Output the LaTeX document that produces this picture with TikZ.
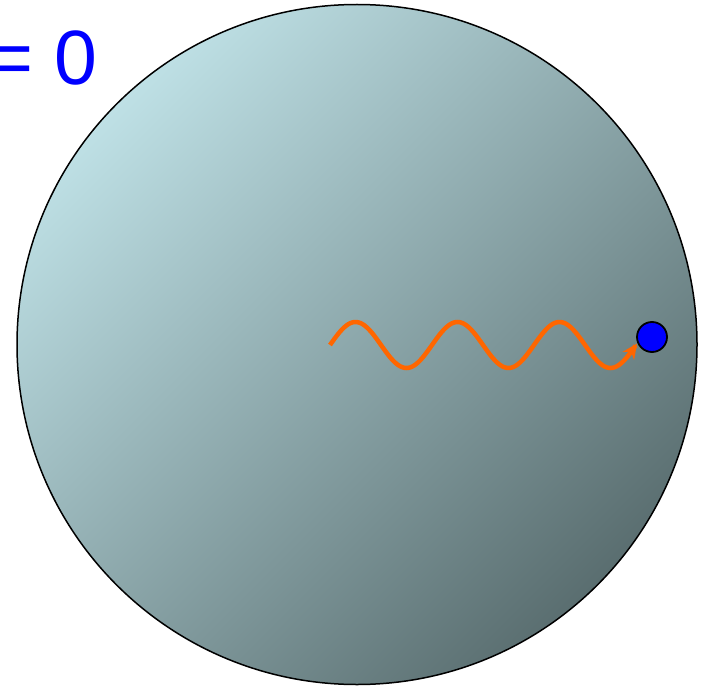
\documentclass[tikz,border=0pt]{standalone}
\usepackage{fontspec}
\setmainfont{Liberation Sans}
\usetikzlibrary{arrows.meta}
\definecolor{lightball}{RGB}{190,224,229}
\definecolor{darkball}{RGB}{90,110,112}
\definecolor{waveorange}{RGB}{255,102,0}
\definecolor{dotblue}{RGB}{0,0,255}
\tikzset{
  ball/.style={draw=black, line width=1.5pt, top color=lightball, bottom color=darkball, shading angle=45},
  wave/.style={draw=waveorange, line width=4.5pt, -{Stealth[length=15pt,width=14pt]}},
  particle/.style={circle, draw=black, line width=1.8pt, fill=dotblue, minimum size=30pt, inner sep=0pt},
  label/.style={text=dotblue, font=\fontsize{77}{77}\selectfont, inner sep=0pt}
}
\begin{document}
\begin{tikzpicture}[x=1pt,y=-1pt]
\useasboundingbox (0,0) rectangle (706,687);
\shade[ball] (357,344.5) circle (340);
\draw[wave] plot[domain=330:637, samples=150, smooth] (\x, {345-23*sin((\x-330)*3.5294)});
\node[particle] (dot) at (652,337) {};
\node[label, anchor=base east] (t) at (98,85) {= 0};
\end{tikzpicture}
\end{document}
